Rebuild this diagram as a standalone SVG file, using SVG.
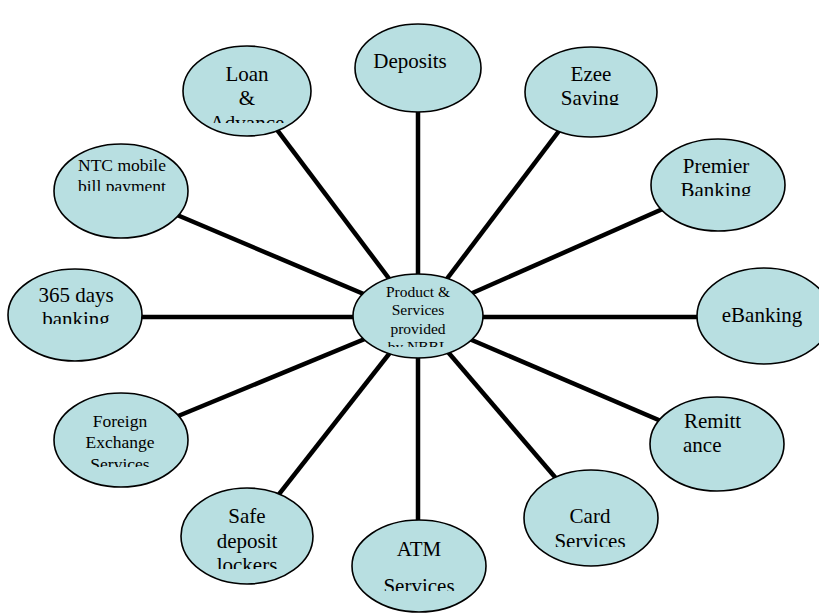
<svg xmlns="http://www.w3.org/2000/svg" width="819" height="616" viewBox="0 0 819 616">
  <style>
    .node ellipse { fill: #b8dfe1; stroke: #000; stroke-width: 1.6; }
    .node text { font-family: "Liberation Serif", "Times New Roman", serif; fill: #000; text-anchor: middle; font-size: 21px; }
    .node text.sm { font-size: 17.5px; }
    .node text.xs { font-size: 15.5px; }
    .node text.left { text-anchor: start; }
    #connectors line { stroke: #000; stroke-width: 4.5; }
  </style>
  <defs>
    <clipPath id="c-loan"><rect x="180" y="50" width="135" height="73"/></clipPath>
    <clipPath id="c-ezee"><rect x="520" y="50" width="140" height="55"/></clipPath>
    <clipPath id="c-ntc"><rect x="50" y="150" width="140" height="41"/></clipPath>
    <clipPath id="c-prem"><rect x="650" y="150" width="140" height="46"/></clipPath>
    <clipPath id="c-365"><rect x="5" y="280" width="140" height="44"/></clipPath>
    <clipPath id="c-fx"><rect x="55" y="405" width="135" height="62"/></clipPath>
    <clipPath id="c-safe"><rect x="180" y="500" width="135" height="69"/></clipPath>
    <clipPath id="c-atm"><rect x="350" y="530" width="140" height="61"/></clipPath>
    <clipPath id="c-card"><rect x="520" y="500" width="140" height="47"/></clipPath>
    <clipPath id="c-hub"><rect x="355" y="280" width="130" height="67"/></clipPath>
  </defs>

  <g id="connectors">
    <line x1="418" y1="317" x2="247" y2="90"/>
    <line x1="418" y1="317" x2="418" y2="70"/>
    <line x1="418" y1="317" x2="590" y2="90"/>
    <line x1="418" y1="317" x2="118" y2="190"/>
    <line x1="418" y1="317" x2="717" y2="185"/>
    <line x1="418" y1="317" x2="75" y2="317"/>
    <line x1="418" y1="317" x2="763" y2="317"/>
    <line x1="418" y1="317" x2="120" y2="440"/>
    <line x1="418" y1="317" x2="717" y2="445"/>
    <line x1="418" y1="317" x2="247" y2="535"/>
    <line x1="418" y1="317" x2="418" y2="565"/>
    <line x1="418" y1="317" x2="590" y2="518"/>
  </g>

  <g id="deposits" class="node">
    <ellipse cx="418" cy="68" rx="63" ry="44"/>
    <text x="410" y="68">Deposits</text>
  </g>

  <g id="loan-advance" class="node">
    <ellipse cx="247" cy="91" rx="64" ry="45"/>
    <g clip-path="url(#c-loan)">
      <text x="247" y="81">Loan</text>
      <text x="247" y="105">&amp;</text>
      <text x="247" y="130">Advance</text>
    </g>
  </g>

  <g id="ezee-saving" class="node">
    <ellipse cx="591" cy="92" rx="66" ry="45"/>
    <g clip-path="url(#c-ezee)">
      <text x="591" y="81">Ezee</text>
      <text x="590" y="105">Saving</text>
    </g>
  </g>

  <g id="ntc-mobile" class="node">
    <ellipse cx="121" cy="191" rx="67" ry="47"/>
    <g clip-path="url(#c-ntc)">
      <text class="sm" x="122" y="171">NTC mobile</text>
      <text class="sm" x="122" y="192">bill payment</text>
    </g>
  </g>

  <g id="premier-banking" class="node">
    <ellipse cx="718" cy="185" rx="67" ry="46"/>
    <g clip-path="url(#c-prem)">
      <text x="716" y="173">Premier</text>
      <text x="716" y="197">Banking</text>
    </g>
  </g>

  <g id="days-banking" class="node">
    <ellipse cx="75" cy="315" rx="67" ry="46"/>
    <g clip-path="url(#c-365)">
      <text x="76" y="302">365 days</text>
      <text x="76" y="326">banking</text>
    </g>
  </g>

  <g id="hub" class="node">
    <ellipse cx="418" cy="316" rx="65" ry="42"/>
    <g clip-path="url(#c-hub)">
      <text class="xs" x="418" y="297">Product &amp;</text>
      <text class="xs" x="418" y="315">Services</text>
      <text class="xs" x="418" y="334">provided</text>
      <text class="xs" x="418" y="352">by NBBL</text>
    </g>
  </g>

  <g id="ebanking" class="node">
    <ellipse cx="764" cy="316" rx="67" ry="48"/>
    <text x="762" y="322">eBanking</text>
  </g>

  <g id="foreign-exchange" class="node">
    <ellipse cx="121" cy="440" rx="67" ry="47"/>
    <g clip-path="url(#c-fx)">
      <text class="sm" x="120" y="427">Foreign</text>
      <text class="sm" x="120" y="448">Exchange</text>
      <text class="sm" x="120" y="470">Services</text>
    </g>
  </g>

  <g id="remittance" class="node">
    <ellipse cx="717" cy="444" rx="67" ry="47"/>
    <text class="left" x="684" y="428">Remitt</text>
    <text class="left" x="683" y="452">ance</text>
  </g>

  <g id="safe-deposit" class="node">
    <ellipse cx="247" cy="536" rx="66" ry="48"/>
    <g clip-path="url(#c-safe)">
      <text x="247" y="523">Safe</text>
      <text x="247" y="548">deposit</text>
      <text x="247" y="572">lockers</text>
    </g>
  </g>

  <g id="atm-services" class="node">
    <ellipse cx="419" cy="566" rx="67" ry="46"/>
    <g clip-path="url(#c-atm)">
      <text x="419" y="556">ATM</text>
      <text x="419" y="593">Services</text>
    </g>
  </g>

  <g id="card-services" class="node">
    <ellipse cx="591" cy="518" rx="67" ry="48"/>
    <g clip-path="url(#c-card)">
      <text x="590" y="523">Card</text>
      <text x="590" y="548">Services</text>
    </g>
  </g>
</svg>
